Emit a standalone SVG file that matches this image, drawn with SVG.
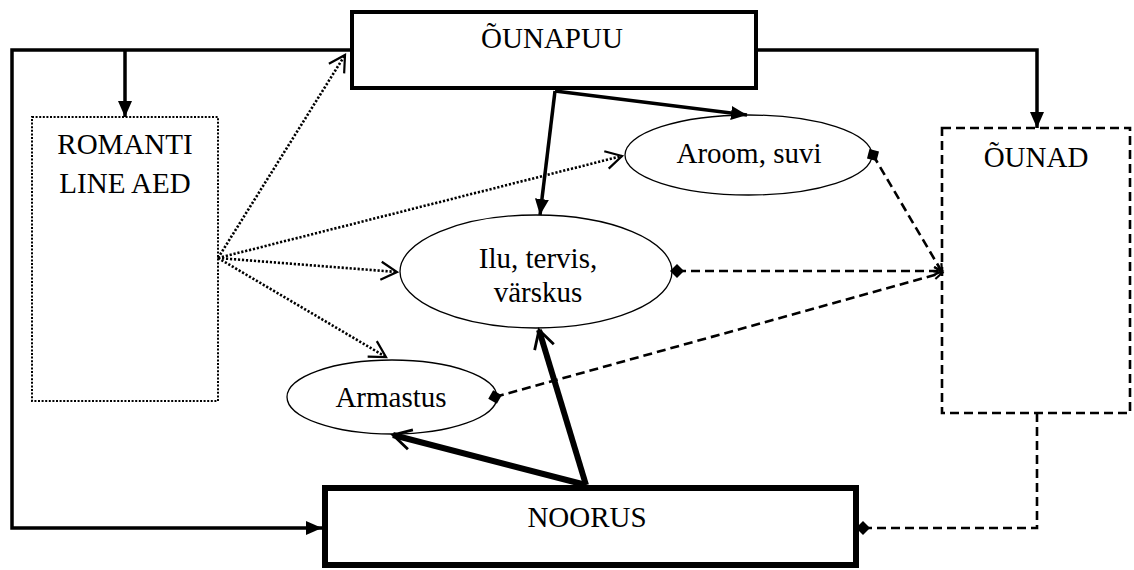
<svg xmlns="http://www.w3.org/2000/svg" width="1134" height="570" viewBox="0 0 1134 570">
  <style>
    .lbl { font-family: 'Liberation Serif', 'Times New Roman', 'DejaVu Serif', serif; font-size: 29px; fill: #000; text-anchor: middle; }
    .box { fill: #fff; stroke: #000; }
    .ell { fill: #fff; stroke: #000; stroke-width: 1.3; }
    .solid { fill: none; stroke: #000; stroke-width: 3.5; }
    .heavy { fill: none; stroke: #000; stroke-width: 6; }
    .dotted { fill: none; stroke: #000; stroke-width: 2.6; stroke-dasharray: 2.2 1.8; }
    .dashed { fill: none; stroke: #000; stroke-width: 2.6; stroke-dasharray: 9 5; }
    .head { fill: #000; stroke: none; }
    .chev { fill: none; stroke: #000; stroke-width: 2.2; }
    .chevBold { fill: none; stroke: #000; stroke-width: 2.8; }
  </style>
  <defs>
    <marker id="arrowFill" viewBox="0 0 16 14" refX="16" refY="7" markerWidth="16" markerHeight="14" markerUnits="userSpaceOnUse" orient="auto">
      <path class="head" d="M0,0 L16,7 L0,14 Z"/>
    </marker>
    <marker id="arrowOpen" viewBox="-2 -2 20 22" refX="16" refY="9" markerWidth="20" markerHeight="22" markerUnits="userSpaceOnUse" orient="auto" overflow="visible">
      <path class="chev" d="M0,0 L16,9 L0,18"/>
    </marker>
    <marker id="arrowOpenBold" viewBox="-2 -2 22 24" refX="18" refY="10" markerWidth="22" markerHeight="24" markerUnits="userSpaceOnUse" orient="auto" overflow="visible">
      <path class="chevBold" d="M0,0 L18,10 L0,20"/>
    </marker>
    <marker id="arrowSmall" viewBox="-2 -2 12 12" refX="8" refY="4" markerWidth="12" markerHeight="12" markerUnits="userSpaceOnUse" orient="auto" overflow="visible">
      <path class="chev" d="M0,0 L8,4 L0,8"/>
    </marker>
    <marker id="diamond" viewBox="0 0 14 14" refX="7" refY="7" markerWidth="14" markerHeight="14" markerUnits="userSpaceOnUse" orient="auto">
      <path class="head" d="M0,7 L7,0 L14,7 L7,14 Z"/>
    </marker>
  </defs>

  <!-- nodes -->
  <g id="ounapuu">
    <rect class="box" x="352" y="12" width="404" height="76" stroke-width="4"/>
    <text class="lbl" x="552" y="48">ÕUNAPUU</text>
  </g>

  <g id="romantiline-aed">
    <rect x="32" y="117" width="186" height="284" fill="none" stroke="#000" stroke-width="2" stroke-dasharray="2 1.6"/>
    <text class="lbl" x="125" y="154">ROMANTI</text>
    <text class="lbl" x="125" y="193">LINE AED</text>
  </g>

  <g id="ounad">
    <rect x="942" y="128" width="188" height="285" fill="none" stroke="#000" stroke-width="2.6" stroke-dasharray="9 5"/>
    <text class="lbl" x="1036" y="167">ÕUNAD</text>
  </g>

  <g id="aroom-suvi">
    <ellipse class="ell" cx="748.5" cy="155" rx="123.5" ry="40"/>
    <text class="lbl" x="749" y="163">Aroom, suvi</text>
  </g>

  <g id="ilu-tervis-varskus">
    <ellipse class="ell" cx="536" cy="271.5" rx="136" ry="56.5"/>
    <text class="lbl" x="538" y="268">Ilu, tervis,</text>
    <text class="lbl" x="538" y="302">värskus</text>
  </g>

  <g id="armastus">
    <ellipse class="ell" cx="392" cy="397" rx="105" ry="37"/>
    <text class="lbl" x="391" y="407">Armastus</text>
  </g>

  <g id="noorus">
    <rect class="box" x="325" y="488" width="531" height="77" stroke-width="6"/>
    <text class="lbl" x="587" y="527">NOORUS</text>
  </g>

  <!-- connectors -->
  <g id="connectors">
    <!-- from the apple tree -->
    <path class="solid" d="M350,50 H12 V528 H322" marker-end="url(#arrowFill)"/>
    <path class="solid" d="M125,50 V117" marker-end="url(#arrowFill)"/>
    <path class="solid" d="M758,50 H1037 V128" marker-end="url(#arrowFill)"/>
    <path class="solid" d="M555,91 L540,215" marker-end="url(#arrowFill)"/>
    <path class="solid" d="M555,91 L747,115" marker-end="url(#arrowFill)"/>

    <!-- from the romantic garden -->
    <path class="dotted" d="M218,258 L345,55" marker-end="url(#arrowOpen)"/>
    <path class="dotted" d="M218,258 L622,156" marker-end="url(#arrowOpen)"/>
    <path class="dotted" d="M218,258 L397,272" marker-end="url(#arrowOpen)"/>
    <path class="dotted" d="M218,258 L386,357" marker-end="url(#arrowOpen)"/>

    <!-- from youth -->
    <path class="heavy" d="M586,485 L539,330" marker-end="url(#arrowOpenBold)"/>
    <path class="heavy" d="M586,485 L393,435" marker-end="url(#arrowOpenBold)"/>

    <!-- to the apples -->
    <path class="dashed" d="M873,155 L942,272" marker-start="url(#diamond)" marker-end="url(#arrowSmall)"/>
    <path class="dashed" d="M677,271 L942,271" marker-start="url(#diamond)" marker-end="url(#arrowSmall)"/>
    <path class="dashed" d="M495,397 L942,273" marker-start="url(#diamond)" marker-end="url(#arrowSmall)"/>
    <path class="dashed" d="M1037,413 V528 H863" marker-end="url(#diamond)"/>
  </g>
</svg>
